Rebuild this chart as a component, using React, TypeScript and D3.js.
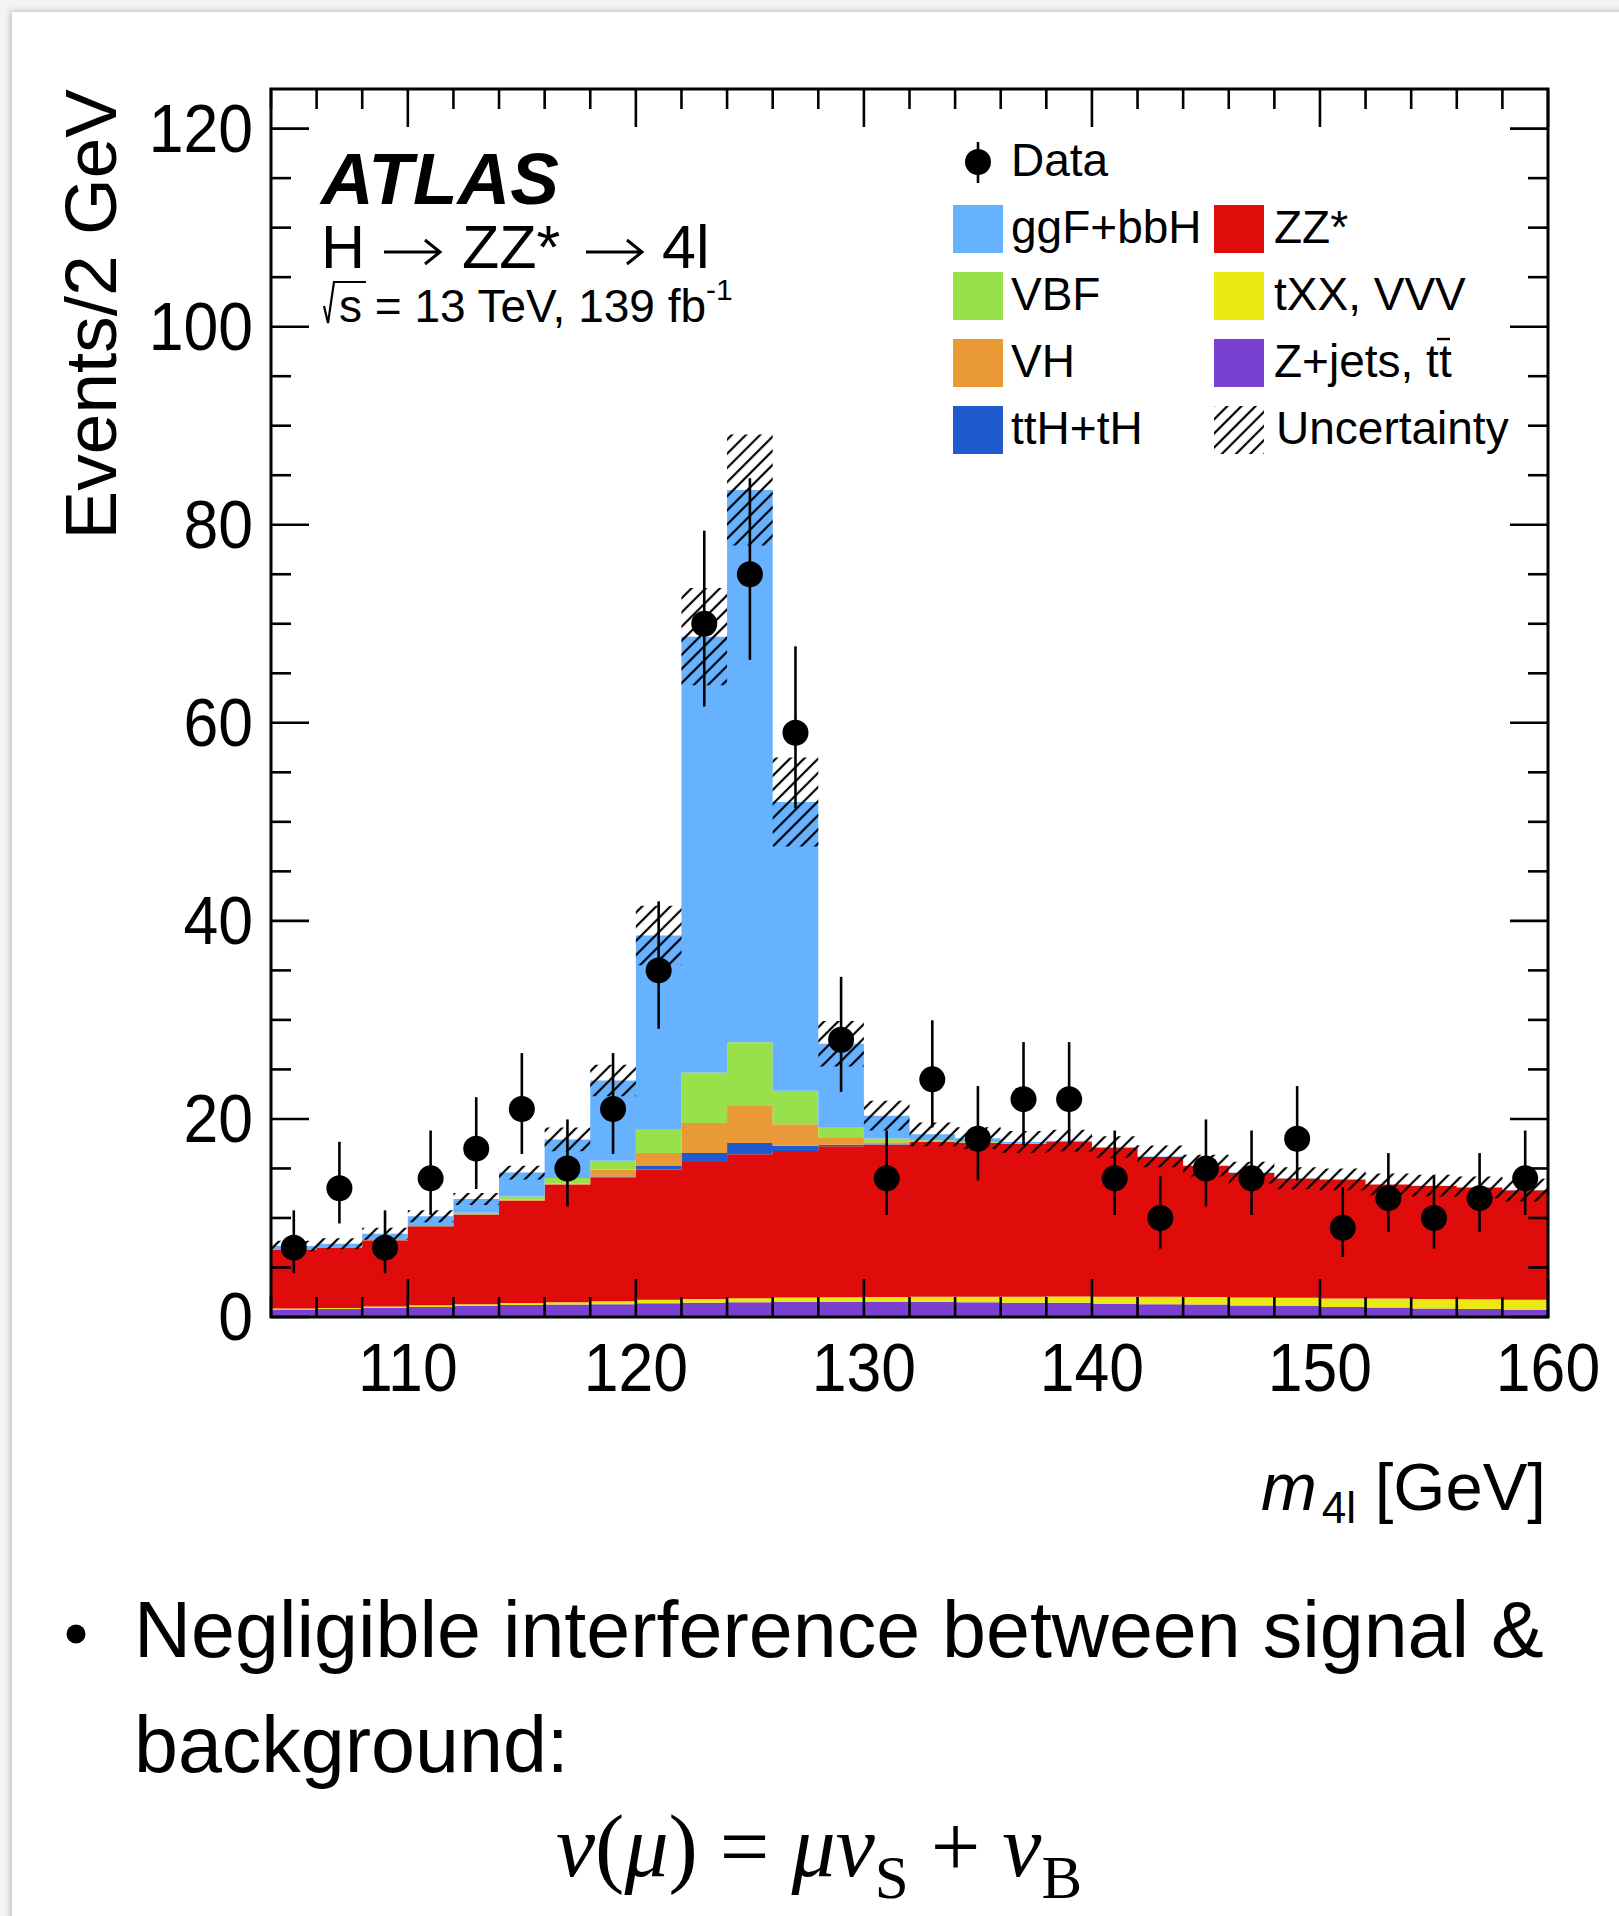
import React from 'react';
import * as d3 from 'd3';

// m4l bin centres [GeV], 2 GeV bins
const binCenters = [105, 107, 109, 111, 113, 115, 117, 119, 121, 123, 125, 127, 129, 131, 133, 135, 137, 139, 141, 143, 145, 147, 149, 151, 153, 155, 157, 159];

// Observed events and their 68% Poisson intervals
const dataCounts = [7, 13, 7, 14, 17, 21, 15, 21, 35, 70, 75, 59, 28, 14, 24, 18, 22, 22, 14, 10, 15, 14, 18, 9, 12, 10, 12, 14];
const dataErrLow = [4.42, 9.45, 4.42, 10.31, 12.92, 16.46, 11.17, 16.46, 29.11, 61.65, 66.36, 51.34, 22.74, 10.31, 19.14, 13.8, 17.35, 17.35, 10.31, 6.9, 11.17, 10.31, 13.8, 6.06, 8.59, 6.9, 8.59, 10.31];
const dataErrHigh = [10.77, 17.69, 10.77, 18.83, 22.2, 26.65, 19.95, 26.65, 41.97, 79.4, 84.7, 67.72, 34.35, 18.83, 29.96, 23.32, 27.76, 27.76, 18.83, 14.26, 19.95, 18.83, 23.32, 13.1, 16.55, 14.26, 16.55, 18.83];

// Expected yields per process (stacked bottom to top)
const zjetsTT = [0.75, 0.8, 0.9, 1.0, 1.1, 1.2, 1.25, 1.3, 1.4, 1.45, 1.5, 1.55, 1.55, 1.55, 1.55, 1.5, 1.45, 1.45, 1.35, 1.3, 1.25, 1.15, 1.1, 1.0, 0.95, 0.85, 0.8, 0.7];
const txxVVV = [0.1, 0.12, 0.15, 0.18, 0.2, 0.22, 0.25, 0.3, 0.35, 0.38, 0.4, 0.42, 0.45, 0.48, 0.5, 0.55, 0.6, 0.62, 0.7, 0.75, 0.78, 0.82, 0.85, 0.88, 0.92, 0.96, 1.0, 1.05];
const zzStar = [5.97, 6.1, 6.71, 7.99, 9.05, 10.31, 11.87, 12.48, 13.14, 13.83, 14.53, 14.8, 15.24, 15.37, 15.63, 15.53, 15.45, 15.61, 15.05, 14.11, 13.22, 12.58, 12.03, 12.0, 11.5, 11.43, 11.27, 11.05];
const ttHtH = [0, 0, 0, 0, 0, 0, 0.02, 0.1, 0.36, 0.9, 1.14, 0.53, 0.16, 0.05, 0.02, 0.01, 0, 0, 0, 0, 0, 0, 0, 0, 0, 0, 0, 0];
const vhProd = [0, 0, 0, 0, 0.02, 0.1, 0.1, 0.7, 1.31, 3.04, 3.73, 2.16, 0.68, 0.2, 0.05, 0.02, 0, 0, 0, 0, 0, 0, 0, 0, 0, 0, 0, 0];
const vbfProd = [0, 0, 0.02, 0.03, 0.15, 0.35, 0.54, 0.9, 2.36, 5.1, 6.45, 3.39, 1.02, 0.38, 0.1, 0.05, 0.02, 0, 0, 0, 0, 0, 0, 0, 0, 0, 0, 0];
const ggFbbH = [0.34, 0.38, 0.62, 0.97, 1.4, 2.4, 3.9, 8.1, 19.6, 44.0, 55.75, 29.15, 8.5, 2.3, 0.6, 0.4, 0.15, 0.12, 0.06, 0.05, 0.04, 0.03, 0.03, 0.02, 0.02, 0.02, 0.02, 0.02];

// Total systematic uncertainty (half width) on the expectation
const uncertainty = [0.55, 0.55, 0.6, 0.6, 0.6, 0.7, 1.2, 1.6, 3.0, 4.9, 5.6, 4.5, 2.3, 1.5, 1.2, 1.1, 1.1, 1.1, 1.1, 1.1, 1.1, 1.1, 1.1, 1.1, 1.1, 1.1, 1.1, 1.15];

const xTickLabels = [110, 120, 130, 140, 150, 160];
const yTickLabels = [0, 20, 40, 60, 80, 100, 120];
const yMax = 124;

const processes = [
  { key: 'zjets', label: 'Z+jets, tt', values: zjetsTT, color: '#7a40d2' },
  { key: 'txx', label: 'tXX, VVV', values: txxVVV, color: '#ebe814' },
  { key: 'zz', label: 'ZZ*', values: zzStar, color: '#e00c0c' },
  { key: 'tth', label: 'ttH+tH', values: ttHtH, color: '#1f5bcc' },
  { key: 'vh', label: 'VH', values: vhProd, color: '#e99a36' },
  { key: 'vbf', label: 'VBF', values: vbfProd, color: '#99e14a' },
  { key: 'ggf', label: 'ggF+bbH', values: ggFbbH, color: '#66b2ff' },
];

const W = 1619;
const H = 1916;
const FRAME = { left: 271, right: 1548, top: 89, bottom: 1317 };
const SANS = "'Liberation Sans', Arial, Helvetica, sans-serif";
const SERIF = "'Liberation Serif', 'Times New Roman', serif";

const colorOf = (k: string) => processes.find((p) => p.key === k)!.color;

// thin right arrow, as used in the decay-channel label
function RightArrow({ x0, x1, yc }: { x0: number; x1: number; yc: number }) {
  return (
    <path
      d={`M${x0},${yc} L${x1},${yc} M${x1 - 15},${yc - 12} L${x1},${yc} L${x1 - 15},${yc + 12}`}
      fill="none"
      stroke="#000"
      strokeWidth={3}
      strokeLinejoin="miter"
    />
  );
}

export default function App() {
  const half = (binCenters[1] - binCenters[0]) / 2;
  const x = d3
    .scaleLinear()
    .domain([binCenters[0] - half, binCenters[binCenters.length - 1] + half])
    .range([FRAME.left, FRAME.right]);
  const y = d3.scaleLinear().domain([0, yMax]).range([FRAME.bottom, FRAME.top]);

  const rows = binCenters.map((c, i) => {
    const r: Record<string, number> = { center: c };
    processes.forEach((p) => (r[p.key] = p.values[i]));
    return r;
  });
  const stack = d3.stack<Record<string, number>>().keys(processes.map((p) => p.key));
  const layers = stack(rows);

  // step-shaped area through bin edges
  type StepPt = { x: number; y0: number; y1: number };
  const stepArea = d3
    .area<StepPt>()
    .x((d) => x(d.x))
    .y0((d) => y(d.y0))
    .y1((d) => y(d.y1))
    .curve(d3.curveStepAfter);
  const stepPoints = (lo: number[], hi: number[]): StepPt[] => {
    const pts = binCenters.map((c, i) => ({ x: c - half, y0: lo[i], y1: hi[i] }));
    const n = binCenters.length - 1;
    pts.push({ x: binCenters[n] + half, y0: lo[n], y1: hi[n] });
    return pts;
  };

  const totals = binCenters.map((_, i) => d3.sum(processes, (p) => p.values[i]));
  const bandLo = totals.map((t, i) => t - uncertainty[i]);
  const bandHi = totals.map((t, i) => t + uncertainty[i]);

  const xMinor = d3.range(x.domain()[0], x.domain()[1] + 0.001, 2);
  const yMinor = d3.range(0, yMax, 5);
  const majorLen = 38;
  const minorLen = 20;

  const tickFs = 68;
  const tickSx = 0.92;

  const legendLeft = [
    { key: 'ggf', row: 0 },
    { key: 'vbf', row: 1 },
    { key: 'vh', row: 2 },
    { key: 'tth', row: 3 },
  ];
  const legendRight = [
    { key: 'zz', row: 0 },
    { key: 'txx', row: 1 },
    { key: 'zjets', row: 2 },
  ];
  const rowTop = (r: number) => 205 + r * 67;
  const labelOf = (k: string) => processes.find((p) => p.key === k)!.label;

  return (
    <svg
      width={W}
      height={H}
      viewBox={`0 0 ${W} ${H}`}
      style={{ position: 'absolute', left: 0, top: 0, display: 'block' }}
    >
      <defs>
        <pattern
          id="hatch"
          patternUnits="userSpaceOnUse"
          width={10}
          height={10}
          patternTransform="rotate(-45)"
        >
          <line x1={-2} y1={5} x2={12} y2={5} stroke="#000" strokeWidth={2.2} />
        </pattern>
        <filter id="cardShadow" x="-5%" y="-5%" width="110%" height="110%">
          <feDropShadow dx={-2} dy={-1} stdDeviation={3} floodColor="#000" floodOpacity={0.22} />
        </filter>
        <clipPath id="plotClip">
          <rect x={FRAME.left} y={FRAME.top} width={FRAME.right - FRAME.left} height={FRAME.bottom - FRAME.top} />
        </clipPath>
      </defs>

      {/* slide card */}
      <rect x={0} y={0} width={W} height={H} fill="#f4f4f4" />
      <rect x={12} y={12} width={W + 20} height={H + 20} fill="#fff" filter="url(#cardShadow)" />

      {/* stacked expectation */}
      <g clipPath="url(#plotClip)">
        {layers.map((layer) => (
          <path
            key={layer.key}
            d={stepArea(stepPoints(layer.map((d) => d[0]), layer.map((d) => d[1])))!}
            fill={colorOf(layer.key)}
          />
        ))}
        <path d={stepArea(stepPoints(bandLo, bandHi))!} fill="url(#hatch)" />
      </g>

      {/* data */}
      <g>
        {binCenters.map((c, i) => (
          <line
            key={`e${i}`}
            x1={x(c)}
            x2={x(c)}
            y1={y(dataErrLow[i])}
            y2={y(dataErrHigh[i])}
            stroke="#000"
            strokeWidth={2.6}
          />
        ))}
        {binCenters.map((c, i) => (
          <circle key={`m${i}`} cx={x(c)} cy={y(dataCounts[i])} r={13} fill="#000" />
        ))}
      </g>

      {/* frame and ticks */}
      <g stroke="#000" fill="none">
        <rect
          x={FRAME.left}
          y={FRAME.top}
          width={FRAME.right - FRAME.left}
          height={FRAME.bottom - FRAME.top}
          strokeWidth={3}
        />
        {xMinor.map((v) => {
          const len = xTickLabels.includes(v) ? majorLen : minorLen;
          return (
            <g key={`xt${v}`} strokeWidth={2.6}>
              <line x1={x(v)} x2={x(v)} y1={FRAME.bottom} y2={FRAME.bottom - len} />
              <line x1={x(v)} x2={x(v)} y1={FRAME.top} y2={FRAME.top + len} />
            </g>
          );
        })}
        {yMinor.map((v) => {
          const len = yTickLabels.includes(v) ? majorLen : minorLen;
          return (
            <g key={`yt${v}`} strokeWidth={2.6}>
              <line x1={FRAME.left} x2={FRAME.left + len} y1={y(v)} y2={y(v)} />
              <line x1={FRAME.right} x2={FRAME.right - len} y1={y(v)} y2={y(v)} />
            </g>
          );
        })}
      </g>

      {/* tick labels */}
      <g fontFamily={SANS} fontSize={tickFs} fill="#000">
        {xTickLabels.map((v) => (
          <text key={`xl${v}`} transform={`translate(${x(v)},1391) scale(${tickSx},1)`} textAnchor="middle">
            {v}
          </text>
        ))}
        {yTickLabels.map((v) => (
          <text
            key={`yl${v}`}
            transform={`translate(253,${y(v)}) scale(${tickSx},1)`}
            textAnchor="end"
            dominantBaseline="central"
          >
            {v}
          </text>
        ))}
      </g>

      {/* axis titles */}
      <text
        transform="translate(116,89) rotate(-90)"
        textAnchor="end"
        fontFamily={SANS}
        fontSize={73}
        fill="#000"
      >
        Events/2 GeV
      </text>
      <text x={1546} y={1510} textAnchor="end" fontFamily={SANS} fontSize={67} fill="#000">
        <tspan fontStyle="italic">m</tspan>
        <tspan fontSize={44} dy={13} dx={5}>4l</tspan>
        <tspan dy={-13}> [GeV]</tspan>
      </text>

      {/* experiment labels */}
      <text x={321} y={204} fontFamily={SANS} fontSize={73} fontWeight="bold" fontStyle="italic" fill="#000">
        ATLAS
      </text>
      <g fontFamily={SANS} fontSize={61} fill="#000">
        <text x={321} y={268}>H</text>
        <text x={462} y={268}>ZZ*</text>
        <text x={662} y={268}>4l</text>
      </g>
      <RightArrow x0={384} x1={440} yc={252} />
      <RightArrow x0={586} x1={642} yc={252} />
      <path d="M324,306 L328,323 L334,282 L366,282" fill="none" stroke="#000" strokeWidth={2.2} />
      <text x={339} y={322} fontFamily={SANS} fontSize={46} fill="#000">
        s = 13 TeV, 139 fb
        <tspan fontSize={30} dy={-22}>-1</tspan>
      </text>

      {/* legend */}
      <g fontFamily={SANS} fontSize={46} fill="#000">
        <line x1={978} x2={978} y1={142} y2={183} stroke="#000" strokeWidth={2.6} />
        <circle cx={978} cy={162} r={13} fill="#000" />
        <text x={1011} y={176}>Data</text>
        {legendLeft.map((e) => (
          <g key={`ll${e.key}`}>
            <rect x={953} y={rowTop(e.row)} width={50} height={48} fill={colorOf(e.key)} />
            <text x={1011} y={rowTop(e.row) + 38}>{labelOf(e.key)}</text>
          </g>
        ))}
        {legendRight.map((e) => (
          <g key={`lr${e.key}`}>
            <rect x={1214} y={rowTop(e.row)} width={50} height={48} fill={colorOf(e.key)} />
            <text x={1274} y={rowTop(e.row) + 38}>{labelOf(e.key)}</text>
          </g>
        ))}
        <line x1={1437} x2={1450} y1={rowTop(2) + 0} y2={rowTop(2) + 0} stroke="#000" strokeWidth={2.4} />
        <rect x={1214} y={rowTop(3)} width={50} height={48} fill="url(#hatch)" />
        <text x={1276} y={rowTop(3) + 38}>Uncertainty</text>
      </g>

      {/* slide text */}
      <circle cx={76} cy={1634} r={9.5} fill="#000" />
      <text x={134} y={1657} fontFamily={SANS} fontSize={79} fill="#000">
        Negligible interference between signal &amp;
      </text>
      <text x={134} y={1772} fontFamily={SANS} fontSize={79} fill="#000">
        background:
      </text>
      <text x={556} y={1876} fontFamily={SERIF} fontSize={88} fill="#000">
        <tspan fontStyle="italic">ν</tspan>
        <tspan>(</tspan>
        <tspan fontStyle="italic">μ</tspan>
        <tspan>)</tspan>
        <tspan> = </tspan>
        <tspan fontStyle="italic">μν</tspan>
        <tspan fontSize={61} dy={22}>S</tspan>
        <tspan dy={-22}> + </tspan>
        <tspan fontStyle="italic">ν</tspan>
        <tspan fontSize={61} dy={22}>B</tspan>
      </text>
    </svg>
  );
}
